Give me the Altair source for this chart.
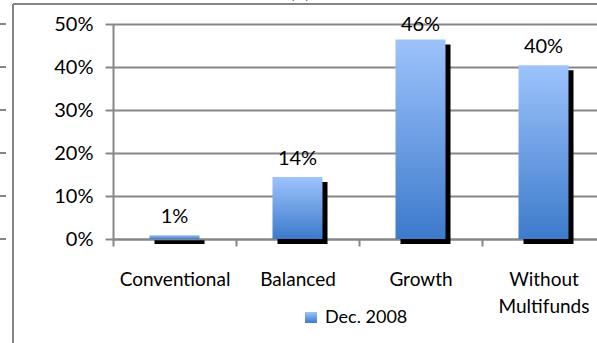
import altair as alt
import pandas as pd

categories = ["Conventional", "Balanced", "Growth", "Without Multifunds"]
values = [0.009, 0.144, 0.464, 0.404]
labels = ["1%", "14%", "46%", "40%"]
series_name = ["Dec. 2008"]
tick_values = [0.0, 0.1, 0.2, 0.3, 0.4, 0.5]
title_text = ["(b)"]

FONT = "Lato"
GRAY = "#868686"

df = pd.DataFrame({"category": categories, "value": values, "label": labels})
ticks_df = pd.DataFrame({"t": tick_values})
legend_df = pd.DataFrame({"series": series_name})
title_df = pd.DataFrame({"name": title_text})

x_enc = alt.X(
    "category:N",
    sort=categories,
    scale=alt.Scale(range=[0, 492], paddingInner=0, paddingOuter=0),
    axis=alt.Axis(
        title=None,
        labelAngle=0,
        labelFont=FONT,
        labelFontSize=19,
        labelColor="#000000",
        labelBaseline="top",
        labelPadding=24,
        labelLineHeight=27,
        labelExpr="split(datum.label, ' ')",
        tickBand="extent",
        tickSize=7,
        tickColor=GRAY,
        tickWidth=2,
        domainColor=GRAY,
        domainWidth=2,
        grid=False,
    ),
)

y_scale = alt.Scale(domain=[0, 0.5], nice=False)

gradient = {
    "gradient": "linear",
    "x1": 0, "x2": 0, "y1": 0, "y2": 1,
    "stops": [
        {"offset": 0, "color": "#9DC3FC"},
        {"offset": 1, "color": "#3C7ACB"},
    ],
}

y_axis = alt.Axis(
    title=None,
    values=tick_values,
    format=".0%",
    labelFont=FONT,
    labelFontSize=20,
    labelColor="#000000",
    labelPadding=12,
    tickSize=8,
    tickColor=GRAY,
    tickWidth=2,
    domainColor=GRAY,
    domainWidth=2,
    gridColor=GRAY,
    gridWidth=2,
)

shadow = alt.Chart(df).mark_bar(
    color="#000000", size=50, xOffset=5, yOffset=5, y2Offset=4
).encode(
    x=x_enc,
    y=alt.Y("value:Q", scale=y_scale, axis=y_axis),
)

bars = alt.Chart(df).mark_bar(fill=gradient, size=50).encode(
    x=x_enc,
    y=alt.Y("value:Q", scale=y_scale, axis=y_axis),
)

text = alt.Chart(df).transform_calculate(
    label_pos="min(datum.value, 0.456)"
).mark_text(
    font=FONT, fontSize=20, color="#000000", baseline="alphabetic", dy=-12
).encode(
    x=x_enc,
    y=alt.Y("label_pos:Q", scale=y_scale, axis=y_axis),
    text="label:N",
)

outer_ticks = alt.Chart(ticks_df).mark_rule(color=GRAY, strokeWidth=2).encode(
    x=alt.value(-113), x2=alt.value(-107),
    y=alt.Y("t:Q", scale=y_scale, axis=y_axis),
)

frame_left = alt.Chart(legend_df).mark_rule(color=GRAY, strokeWidth=2).encode(
    x=alt.value(-100), y=alt.value(-20), y2=alt.value(330)
)
frame_top = alt.Chart(legend_df).mark_rule(color=GRAY, strokeWidth=2).encode(
    x=alt.value(-100), x2=alt.value(500), y=alt.value(-20)
)

legend_box = alt.Chart(legend_df).mark_rect(fill=gradient).encode(
    x=alt.value(192), x2=alt.value(204), y=alt.value(288), y2=alt.value(299)
)
legend_text = alt.Chart(legend_df).mark_text(
    font=FONT, fontSize=18, color="#000000", align="left", baseline="alphabetic"
).encode(x=alt.value(212), y=alt.value(299), text="series:N")

title = alt.Chart(title_df).mark_text(
    font=FONT, fontSize=20, color="#000000", align="center", baseline="alphabetic"
).encode(x=alt.value(187), y=alt.value(-26), text="name:N")

chart = alt.layer(
    frame_left, frame_top, outer_ticks, shadow, bars, text, legend_box, legend_text, title
).properties(
    width=484,
    height=215,
    autosize=alt.AutoSizeParams(type="none"),
    padding={"left": 113, "top": 24, "right": 0, "bottom": 104},
    background="#ffffff",
).configure_view(stroke=None)

chart.save("out.html", embed_options={"renderer": "svg", "actions": False})
